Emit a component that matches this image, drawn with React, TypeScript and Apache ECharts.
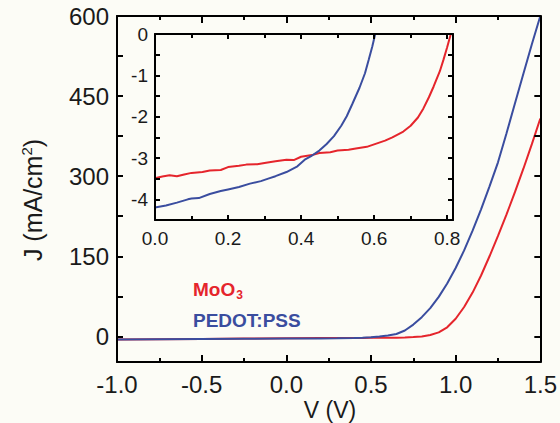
import React, { useEffect, useRef } from "react";
import * as echarts from "echarts";

// Main J-V curves
const mainV = [-1.0, -0.75, -0.5, -0.25, 0.0, 0.2, 0.3, 0.4, 0.45, 0.5, 0.55, 0.6, 0.65, 0.7, 0.75, 0.8, 0.85, 0.9, 0.95, 1.0, 1.05, 1.1, 1.15, 1.2, 1.25, 1.3, 1.35, 1.4, 1.45, 1.5];
const pedotJ = [-6, -5.5, -5, -4.6, -4.2, -3.8, -3.5, -3, -2.6, -1.6, -0.2, 1.6, 4.5, 11, 22, 36, 53, 74, 99, 128, 161, 198, 238, 281, 326, 380, 436, 492, 547, 600];
const moo3J = [-6, -5.4, -4.8, -4.1, -3.5, -3.2, -3.1, -2.95, -2.85, -2.75, -2.7, -2.6, -2.45, -2.2, -1.4, -0.3, 2.5, 7.5, 17, 33, 55, 82, 114, 150, 188, 228, 270, 314, 360, 408];

// Inset curves
const insetMoO3V = [0.0, 0.02, 0.04, 0.06, 0.08, 0.1, 0.13, 0.15, 0.18, 0.2, 0.23, 0.25, 0.28, 0.3, 0.33, 0.36, 0.38, 0.4, 0.43, 0.45, 0.48, 0.5, 0.53, 0.55, 0.58, 0.6, 0.63, 0.65, 0.68, 0.7, 0.72, 0.735, 0.75, 0.763, 0.78, 0.79, 0.8, 0.81];
const insetMoO3J = [-3.49, -3.45, -3.42, -3.44, -3.4, -3.36, -3.34, -3.3, -3.29, -3.22, -3.19, -3.16, -3.15, -3.12, -3.08, -3.04, -3.05, -2.97, -2.93, -2.88, -2.86, -2.82, -2.8, -2.77, -2.73, -2.67, -2.58, -2.5, -2.36, -2.22, -2.02, -1.8, -1.53, -1.27, -0.9, -0.62, -0.32, 0.0];
const insetPedotV = [0.0, 0.03, 0.06, 0.09, 0.1, 0.12, 0.15, 0.18, 0.2, 0.23, 0.26, 0.29, 0.31, 0.33, 0.36, 0.39, 0.41, 0.43, 0.45, 0.47, 0.49, 0.51, 0.525, 0.54, 0.56, 0.575, 0.585, 0.595, 0.603];
const insetPedotJ = [-4.2, -4.15, -4.08, -4.0, -3.98, -3.97, -3.87, -3.8, -3.76, -3.7, -3.62, -3.56, -3.5, -3.44, -3.34, -3.2, -3.04, -2.94, -2.82, -2.66, -2.47, -2.22, -1.99, -1.7, -1.3, -0.95, -0.63, -0.3, 0.0];

const mainXTicks = { min: -1.0, max: 1.5, interval: 0.5 };
const mainYLabels = [0, 150, 300, 450, 600];
const mainYTicks = [0, 75, 150, 225, 300, 375, 450, 525, 600];

const RED = "#e5252c";
const BLUE = "#3a4d9f";
const FONT = "'Liberation Sans', Arial, sans-serif";
const BG = "#fcfcf6";

export default function App() {
  const ref = useRef<HTMLDivElement>(null);
  useEffect(() => {
    if (!ref.current) return;
    const chart = echarts.init(ref.current, undefined, { renderer: "svg" });
    const lineStyle = { color: "#000", width: 2 };
    const tickStyle = { color: "#000", width: 2 };
    const pair = (xs: number[], ys: number[]) => xs.map((x, i) => [x, ys[i]]);
    const mainX = (pos: "bottom" | "top", labels: boolean) => ({
      type: "value",
      gridIndex: 0,
      position: pos,
      min: mainXTicks.min,
      max: mainXTicks.max,
      interval: mainXTicks.interval,
      z: 4,
      axisLine: { show: true, onZero: false, lineStyle },
      axisTick: { show: true, inside: true, length: 7, lineStyle: tickStyle },
      minorTick: { show: true, splitNumber: 2, length: 4, lineStyle: tickStyle },
      splitLine: { show: false },
      minorSplitLine: { show: false },
      axisLabel: {
        show: labels,
        margin: 10,
        fontSize: 24,
        fontFamily: FONT,
        color: "#1a1a1a",
        formatter: (v: number) => v.toFixed(1),
      },
    });
    const mainY = (pos: "left" | "right", labels: boolean) => ({
      type: "value",
      gridIndex: 0,
      position: pos,
      min: -48,
      max: 600,
      z: 4,
      axisLine: { show: true, onZero: false, lineStyle },
      axisTick: { show: true, inside: true, length: 6, customValues: mainYTicks, lineStyle: tickStyle },
      splitLine: { show: false },
      axisLabel: {
        show: labels,
        margin: 8,
        fontSize: 24,
        fontFamily: FONT,
        color: "#1a1a1a",
        customValues: mainYLabels,
      },
    });
    const insetX = (pos: "bottom" | "top", labels: boolean) => ({
      type: "value",
      gridIndex: 1,
      position: pos,
      min: 0,
      max: 0.816,
      interval: 0.2,
      z: 7,
      axisLine: { show: true, onZero: false, lineStyle },
      axisTick: { show: true, inside: true, length: 5, lineStyle: tickStyle },
      minorTick: { show: true, splitNumber: 2, length: 4, lineStyle: tickStyle },
      splitLine: { show: false },
      minorSplitLine: { show: false },
      axisLabel: {
        show: labels,
        margin: 9,
        fontSize: 19,
        fontFamily: FONT,
        color: "#1a1a1a",
        formatter: (v: number) => (Math.abs(v * 5 - Math.round(v * 5)) < 1e-6 ? v.toFixed(1) : ""),
      },
    });
    const insetY = (pos: "left" | "right", labels: boolean) => ({
      type: "value",
      gridIndex: 1,
      position: pos,
      min: -4.5,
      max: 0,
      interval: 0.5,
      z: 7,
      axisLine: { show: true, onZero: false, lineStyle },
      axisTick: { show: true, inside: true, length: 5, lineStyle: tickStyle },
      splitLine: { show: false },
      axisLabel: {
        show: labels,
        margin: 7,
        fontSize: 19,
        fontFamily: FONT,
        color: "#1a1a1a",
        formatter: (v: number) => (Math.abs(v - Math.round(v)) < 1e-6 ? String(Math.round(v)) : ""),
      },
    });

    chart.setOption({
      animation: false,
      backgroundColor: BG,
      grid: [
        { left: 117, top: 16, width: 426, height: 346, show: false },
        { left: 155, top: 34, width: 298, height: 186, show: false },
      ],
      xAxis: [mainX("bottom", true), mainX("top", false), insetX("bottom", true), insetX("top", false)],
      yAxis: [mainY("left", true), mainY("right", false), insetY("left", true), insetY("right", false)],
      series: [
        {
          type: "line",
          name: "MoO3",
          xAxisIndex: 0,
          yAxisIndex: 0,
          data: pair(mainV, moo3J),
          showSymbol: false,
          lineStyle: { color: RED, width: 2 },
          itemStyle: { color: RED },
          clip: true,
          z: 3,
        },
        {
          type: "line",
          name: "PEDOT:PSS",
          xAxisIndex: 0,
          yAxisIndex: 0,
          data: pair(mainV, pedotJ),
          showSymbol: false,
          lineStyle: { color: BLUE, width: 2 },
          itemStyle: { color: BLUE },
          clip: true,
          z: 3,
        },
        {
          type: "line",
          name: "MoO3 inset",
          xAxisIndex: 2,
          yAxisIndex: 2,
          data: pair(insetMoO3V, insetMoO3J),
          showSymbol: false,
          lineStyle: { color: RED, width: 2 },
          itemStyle: { color: RED },
          clip: true,
          z: 6,
        },
        {
          type: "line",
          name: "PEDOT inset",
          xAxisIndex: 2,
          yAxisIndex: 2,
          data: pair(insetPedotV, insetPedotJ),
          showSymbol: false,
          lineStyle: { color: BLUE, width: 2 },
          itemStyle: { color: BLUE },
          clip: true,
          z: 6,
        },
      ],
      graphic: [
        {
          type: "text",
          left: 193,
          top: 280,
          z: 10,
          style: {
            text: "{a|MoO}{b|3}",
            rich: {
              a: { fontSize: 19, fontWeight: "bold", fontFamily: FONT, fill: RED, color: RED },
              b: { fontSize: 12, fontWeight: "bold", fontFamily: FONT, fill: RED, color: RED, padding: [10, 0, 0, 1] },
            },
          },
        },
        {
          type: "text",
          left: 193,
          top: 311,
          z: 10,
          style: {
            text: "PEDOT:PSS",
            fontSize: 19,
            fontWeight: "bold",
            fontFamily: FONT,
            fill: BLUE,
          },
        },
        {
          type: "text",
          x: 330,
          y: 410,
          z: 10,
          style: {
            text: "V (V)",
            fontSize: 23,
            fontFamily: FONT,
            fill: "#1a1a1a",
            align: "center",
            verticalAlign: "middle",
          },
        },
        {
          type: "text",
          x: 33,
          y: 200,
          rotation: Math.PI / 2,
          z: 10,
          style: {
            text: "{a|J (mA/cm}{b|2}{a|)}",
            align: "center",
            verticalAlign: "middle",
            rich: {
              a: { fontSize: 25, fontFamily: FONT, fill: "#1a1a1a", color: "#1a1a1a" },
              b: { fontSize: 15, fontFamily: FONT, fill: "#1a1a1a", color: "#1a1a1a", padding: [0, 0, 14, 0] },
            },
          },
        },
      ],
    });
    return () => chart.dispose();
  }, []);
  return (
    <div
      ref={ref}
      style={{ position: "absolute", left: 0, top: 0, width: 560, height: 423 }}
    />
  );
}
